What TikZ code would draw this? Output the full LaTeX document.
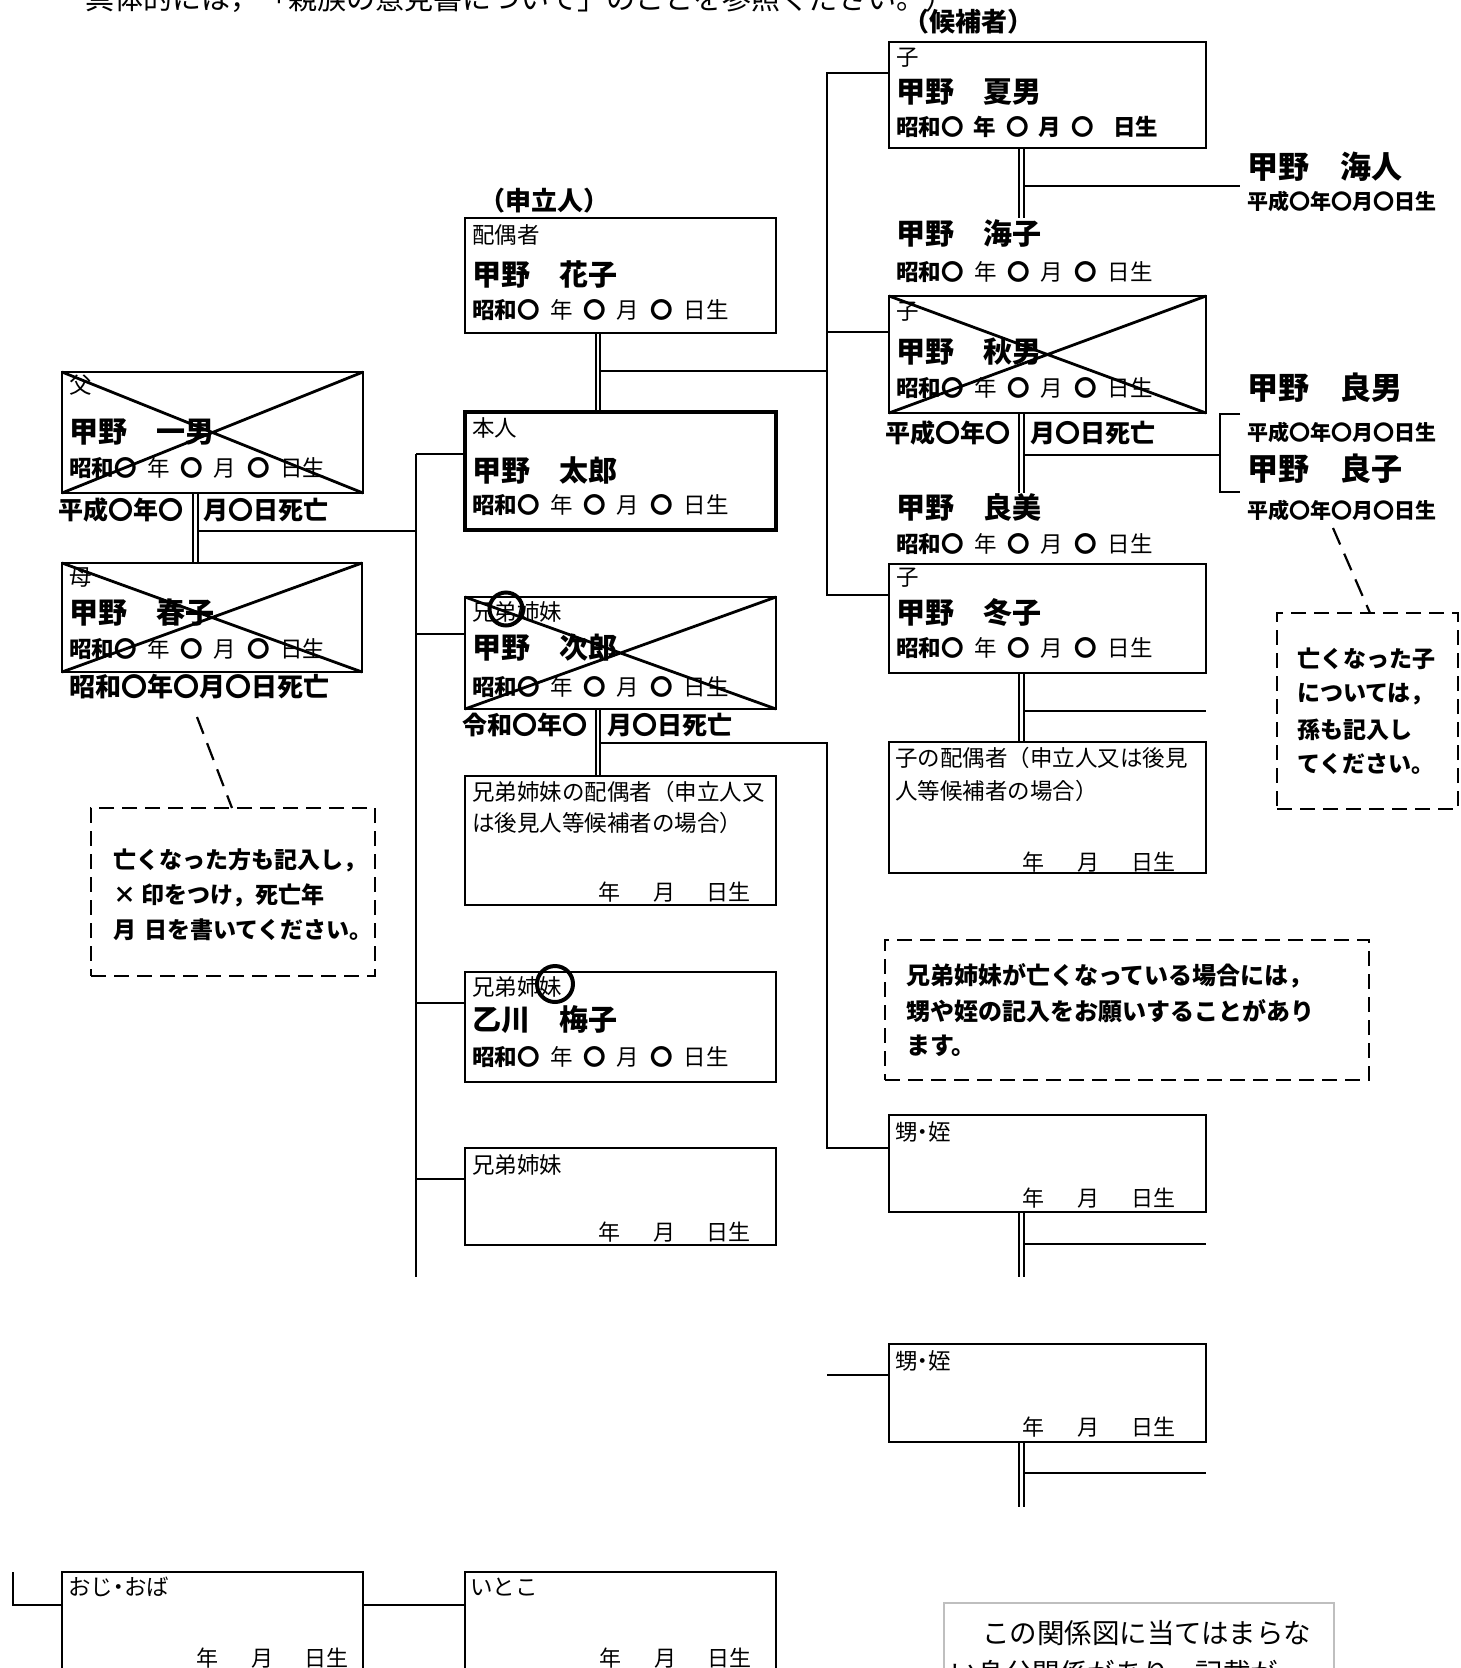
\documentclass[tikz,border=0pt]{standalone}
\usepackage{fontspec}
\setmainfont{Noto Sans CJK JP}
\usetikzlibrary{calc,backgrounds}
\newcommand\mr{\textbf{〇}}
\newcommand\bdayA{\textbf{昭和〇}\hspace{.48em}年\hspace{.48em}\mr\hspace{.48em}月\hspace{.48em}\mr\hspace{.48em}日生}
\newcommand\bdayB{\textbf{昭和〇\hspace{.45em}年\hspace{.45em}〇\hspace{.45em}月\hspace{.45em}〇\hspace{.85em}日生}}
\newcommand\ymdline{年\hspace{33pt}月\hspace{32pt}日生}
\newcommand\nd{\kern-.25em・\kern-.25em}
\begin{document}
\begin{tikzpicture}[x=1pt,y=-1pt,
  pbox/.style={draw,line width=2.7pt,rectangle,inner sep=0pt,outer sep=0pt,anchor=north west},
  txt/.style={anchor=west,inner sep=0pt,outer sep=0pt},
  lab/.style={txt,font=\fontsize{22.5}{26}\selectfont},
  nm/.style={txt,font=\fontsize{29}{33}\selectfont\bfseries},
  dt/.style={txt,font=\fontsize{22.5}{26}\selectfont},
  ymd/.style={txt,font=\fontsize{22}{26}\selectfont},
  death/.style={txt,font=\fontsize{25}{29}\selectfont\bfseries},
  gname/.style={txt,font=\fontsize{31}{35}\selectfont\bfseries},
  gdate/.style={txt,font=\fontsize{21}{24}\selectfont\bfseries},
  notetxt/.style={txt,font=\fontsize{23}{27}\selectfont\bfseries},
  hdr/.style={inner sep=0pt,font=\fontsize{26}{30}\selectfont\bfseries},
  conn/.style={line width=2.5pt},
  dbl/.style={double,double distance=2.6pt,line width=1.8pt},
  xline/.style={line width=2.8pt},
  ring/.style={circle,draw,line width=4pt,inner sep=0pt},
  notebox/.style={draw,line width=2.2pt,dash pattern=on 15pt off 8pt,inner sep=0pt,outer sep=0pt,anchor=north west},
  leader/.style={line width=2.2pt,dash pattern=on 18pt off 10pt}
]
\useasboundingbox (0,0) rectangle (1461,1668);
\clip (0,0) rectangle (1461,1668);

\node[txt,font=\fontsize{29}{33}\selectfont] (toptext) at (85,-1) {具体的には，「親族の意見書について」のことを参照ください。）};
\node[hdr] (hkoho) at (968,22) {（候補者）};
\node[hdr] (hmoshi) at (544,201) {（申立人）};

% boxes
\node[pbox,minimum width=317,minimum height=106] (natsuo) at (889,42) {};
\node[pbox,minimum width=311,minimum height=115] (haiguu) at (465,218) {};
\node[pbox,minimum width=317,minimum height=117] (akio) at (889,296) {};
\node[pbox,minimum width=301,minimum height=121] (chichi) at (62,372) {};
\node[pbox,line width=4.5pt,minimum width=311,minimum height=118] (honnin) at (465,412) {};
\node[pbox,minimum width=300,minimum height=109] (haha) at (62,563) {};
\node[pbox,minimum width=317,minimum height=109] (fuyuko) at (889,564) {};
\node[pbox,minimum width=311,minimum height=112] (jiro) at (465,597) {};
\node[pbox,minimum width=317,minimum height=131] (kohai) at (889,742) {};
\node[pbox,minimum width=311,minimum height=129] (kyohai) at (465,776) {};
\node[pbox,minimum width=311,minimum height=110] (umeko) at (465,972) {};
\node[pbox,minimum width=317,minimum height=97] (oimeiA) at (889,1115) {};
\node[pbox,minimum width=311,minimum height=97] (kyodai) at (465,1148) {};
\node[pbox,minimum width=317,minimum height=98] (oimeiB) at (889,1344) {};
\node[pbox,minimum width=301,minimum height=150] (oji) at (62,1572) {};
\node[pbox,minimum width=311,minimum height=150] (itoko) at (465,1572) {};
\node[pbox,draw=black!25,line width=2.5pt,minimum width=390,minimum height=120] (other) at (944,1603) {};

% box texts
\node[lab] (natsuo-l) at (896,58) {子};
\node[nm] (natsuo-n) at (896,92) {甲野　夏男};
\node[dt] (natsuo-d) at (896,127) {\bdayB};

\node[lab] (haiguu-l) at (472,235) {配偶者};
\node[nm] (haiguu-n) at (472,275) {甲野　花子};
\node[dt] (haiguu-d) at (472,310) {\bdayA};

\node[lab] (akio-l) at (896,312) {子};
\node[nm] (akio-n) at (896,352) {甲野　秋男};
\node[dt] (akio-d) at (896,388) {\bdayA};

\node[lab] (chichi-l) at (69,385) {父};
\node[nm] (chichi-n) at (69,432) {甲野　一男};
\node[dt] (chichi-d) at (69,468) {\bdayA};

\node[lab] (honnin-l) at (472,428) {本人};
\node[nm] (honnin-n) at (472,470) {甲野　太郎};
\node[dt] (honnin-d) at (472,505) {\bdayA};

\node[lab] (haha-l) at (69,578) {母};
\node[nm] (haha-n) at (69,613) {甲野　春子};
\node[dt] (haha-d) at (69,649) {\bdayA};

\node[lab] (fuyuko-l) at (896,578) {子};
\node[nm] (fuyuko-n) at (896,612) {甲野　冬子};
\node[dt] (fuyuko-d) at (896,648) {\bdayA};

\node[lab] (jiro-l) at (472,612) {兄弟姉妹};
\node[nm] (jiro-n) at (472,648) {甲野　次郎};
\node[dt] (jiro-d) at (472,687) {\bdayA};

\node[lab] (kyohai-l1) at (472,792) {兄弟姉妹の配偶者（申立人又};
\node[lab] (kyohai-l2) at (472,823) {は後見人等候補者の場合）};
\node[ymd] (kyohai-d) at (598,892) {\ymdline};

\node[lab] (kohai-l1) at (895,758) {子の配偶者（申立人又は後見};
\node[lab] (kohai-l2) at (895,791) {人等候補者の場合）};
\node[ymd] (kohai-d) at (1022,862) {\ymdline};

\node[lab] (umeko-l) at (472,987) {兄弟姉妹};
\node[nm] (umeko-n) at (472,1020) {乙川　梅子};
\node[dt] (umeko-d) at (472,1057) {\bdayA};

\node[lab] (oimeiA-l) at (895,1132) {甥\nd 姪};
\node[ymd] (oimeiA-d) at (1022,1198) {\ymdline};

\node[lab] (kyodai-l) at (472,1165) {兄弟姉妹};
\node[ymd] (kyodai-d) at (598,1232) {\ymdline};

\node[lab] (oimeiB-l) at (895,1361) {甥\nd 姪};
\node[ymd] (oimeiB-d) at (1022,1427) {\ymdline};

\node[lab] (oji-l) at (68,1587) {おじ\nd おば};
\node[ymd] (oji-d) at (196,1658) {\ymdline};

\node[lab] (itoko-l) at (470,1587) {いとこ};
\node[ymd] (itoko-d) at (599,1658) {\ymdline};

\node[txt,font=\fontsize{27.5}{32}\selectfont] (other-1) at (982,1633) {この関係図に当てはまらな};
\node[txt,font=\fontsize{27.5}{32}\selectfont] (other-2) at (950,1673) {い身分関係があり，記載が};

% death dates
\node[death] (chichi-x) at (58,510) {平成〇年〇\hspace{.8em}月〇日死亡};
\node[death,font=\fontsize{26}{30}\selectfont\bfseries] (haha-x) at (69,687) {昭和〇年〇月〇日死亡};
\node[death] (akio-x) at (885,433) {平成〇年〇\hspace{.8em}月〇日死亡};
\node[death] (jiro-x) at (462,725) {令和〇年〇\hspace{.8em}月〇日死亡};

% grandchildren and spouses
\node[gname] (kaito) at (1247,167) {甲野　海人};
\node[gdate] (kaito-d) at (1247,201) {平成〇年〇月〇日生};
\node[nm] (umiko) at (896,234) {甲野　海子};
\node[dt] (umiko-d) at (896,272) {\bdayA};
\node[gname] (yoshio) at (1247,388) {甲野　良男};
\node[gdate] (yoshio-d) at (1247,432) {平成〇年〇月〇日生};
\node[gname] (yoshiko) at (1247,469) {甲野　良子};
\node[gdate] (yoshiko-d) at (1247,510) {平成〇年〇月〇日生};
\node[nm] (yoshimi) at (896,507) {甲野　良美};
\node[dt] (yoshimi-d) at (896,544) {\bdayA};

% crosses for deceased
\foreach \b in {chichi,haha,akio,jiro}{
  \draw[xline] (\b.north west) -- (\b.south east) (\b.south west) -- (\b.north east);
}

% rings
\node[ring,minimum size=33] (ringA) at (506,609) {};
\node[ring,minimum size=36] (ringB) at (555,984) {};

% notes
\node[notebox,minimum width=284,minimum height=168] (noteL) at (91,808) {};
\node[notetxt] (noteL1) at (113,860) {亡くなった方も記入し，};
\node[notetxt] (noteL2) at (113,895) {×\hspace{.25em}印をつけ，死亡年};
\node[notetxt] (noteL3) at (113,930) {月\hspace{.35em}日を書いてください。};
\coordinate (leadL) at (197,717);
\draw[leader] (leadL) -- ($(noteL.north west)+(141,0)$);

\node[notebox,minimum width=181,minimum height=196] (noteR) at (1277,613) {};
\node[notetxt] (noteR1) at (1297,659) {亡くなった子};
\node[notetxt] (noteR2) at (1297,694) {については，};
\node[notetxt] (noteR3) at (1297,730) {孫も記入し};
\node[notetxt] (noteR4) at (1297,764) {てください。};
\coordinate (leadR) at (1333,528);
\draw[leader] (leadR) -- ($(noteR.north west)+(93,0)$);

\node[notebox,minimum width=484,minimum height=140] (noteM) at (885,940) {};
\node[notetxt,font=\fontsize{24}{28}\selectfont\bfseries] (noteM1) at (906,976) {兄弟姉妹が亡くなっている場合には，};
\node[notetxt,font=\fontsize{24}{28}\selectfont\bfseries] (noteM2) at (906,1011) {甥や姪の記入をお願いすることがあり};
\node[notetxt,font=\fontsize{24}{28}\selectfont\bfseries] (noteM3) at (906,1046) {ます。};

% connectors
\begin{pgfonlayer}{background}
\coordinate (lbusT) at (416,454);
\coordinate (lbusB) at (416,1277);
\coordinate (honnin-in) at ($(honnin.north west)+(0,42)$);
\coordinate (jiro-in) at ($(jiro.north west)+(0,37)$);
\coordinate (umeko-in) at ($(umeko.north west)+(0,31)$);
\coordinate (kyodai-in) at ($(kyodai.north west)+(0,31)$);
\draw[conn] (lbusT) -- (lbusB);
\draw[conn] (lbusT) -- (honnin-in);
\draw[conn] (lbusT |- jiro-in) -- (jiro-in);
\draw[conn] (lbusT |- umeko-in) -- (umeko-in);
\draw[conn] (lbusT |- kyodai-in) -- (kyodai-in);

\coordinate (pTop) at ($(chichi.south west)+(133.5,0)$);
\coordinate (pJoin) at ($(pTop)+(0,38)$);
\draw[conn] (pJoin) -- (lbusT |- pJoin);
\draw[dbl] (pTop) -- (pTop |- haha.north);

\coordinate (rbusT) at (827,73);
\coordinate (rbusB) at (827,595);
\coordinate (natsuo-in) at ($(natsuo.north west)+(0,31)$);
\coordinate (akio-in) at ($(akio.north west)+(0,36)$);
\coordinate (fuyuko-in) at ($(fuyuko.north west)+(0,31)$);
\draw[conn] (natsuo-in) -| (rbusB) -- (fuyuko-in);
\draw[conn] (rbusT |- akio-in) -- (akio-in);

\coordinate (sTop) at ($(haiguu.south west)+(133,0)$);
\coordinate (sJoin) at ($(sTop)+(0,38)$);
\draw[conn] (sJoin) -- (rbusT |- sJoin);
\draw[dbl] (sTop) -- (sTop |- honnin.north);

\coordinate (jTop) at ($(jiro.south west)+(133,0)$);
\coordinate (jJoin) at ($(jTop)+(0,34)$);
\coordinate (oimeiA-in) at ($(oimeiA.north west)+(0,33)$);
\draw[conn] (jJoin) -| (oimeiA-in -| rbusT) -- (oimeiA-in);
\draw[dbl] (jTop) -- (jTop |- kyohai.north);

\coordinate (nTop) at ($(natsuo.south west)+(132.5,0)$);
\coordinate (nBot) at ($(nTop)+(0,70)$);
\coordinate (nEnd) at (1240,186);
\draw[conn] (nTop |- nEnd) -- (nEnd);
\draw[dbl] (nTop) -- (nBot);

\coordinate (aTop) at ($(akio.south west)+(132.5,0)$);
\coordinate (aBot) at ($(aTop)+(0,80)$);
\coordinate (brT) at (1240,414);
\coordinate (brB) at (1240,492);
\coordinate (brJ) at (1220,455);
\draw[conn] (aTop |- brJ) -- (brJ);
\draw[conn] (brT) -- (brT -| brJ) -- (brB -| brJ) -- (brB);
\draw[dbl] (aTop) -- (aBot);

\coordinate (fTop) at ($(fuyuko.south west)+(132.5,0)$);
\coordinate (fJoin) at ($(fTop)+(0,38)$);
\draw[conn] (fJoin) -- (fJoin -| kohai.east);
\draw[dbl] (fTop) -- (fTop |- kohai.north);

\coordinate (oaTop) at ($(oimeiA.south west)+(132.5,0)$);
\coordinate (oaBot) at ($(oaTop)+(0,65)$);
\coordinate (oaJoin) at ($(oaTop)+(0,32)$);
\draw[conn] (oaJoin) -- (oaJoin -| oimeiA.east);
\draw[dbl] (oaTop) -- (oaBot);

\coordinate (oimeiB-in) at ($(oimeiB.north west)+(0,31)$);
\coordinate (obFree) at (827,1375);
\draw[conn] (obFree) -- (oimeiB-in);
\coordinate (obTop) at ($(oimeiB.south west)+(132.5,0)$);
\coordinate (obBot) at ($(obTop)+(0,65)$);
\coordinate (obJoin) at ($(obTop)+(0,31)$);
\draw[conn] (obJoin) -- (obJoin -| oimeiB.east);
\draw[dbl] (obTop) -- (obBot);

\coordinate (oji-in) at ($(oji.north west)+(0,33)$);
\coordinate (ojiFree) at (13,1572);
\draw[conn] (ojiFree) |- (oji-in);
\draw[conn] (oji-in -| oji.east) -- (oji-in -| itoko.west);
\end{pgfonlayer}
\end{tikzpicture}
\end{document}
